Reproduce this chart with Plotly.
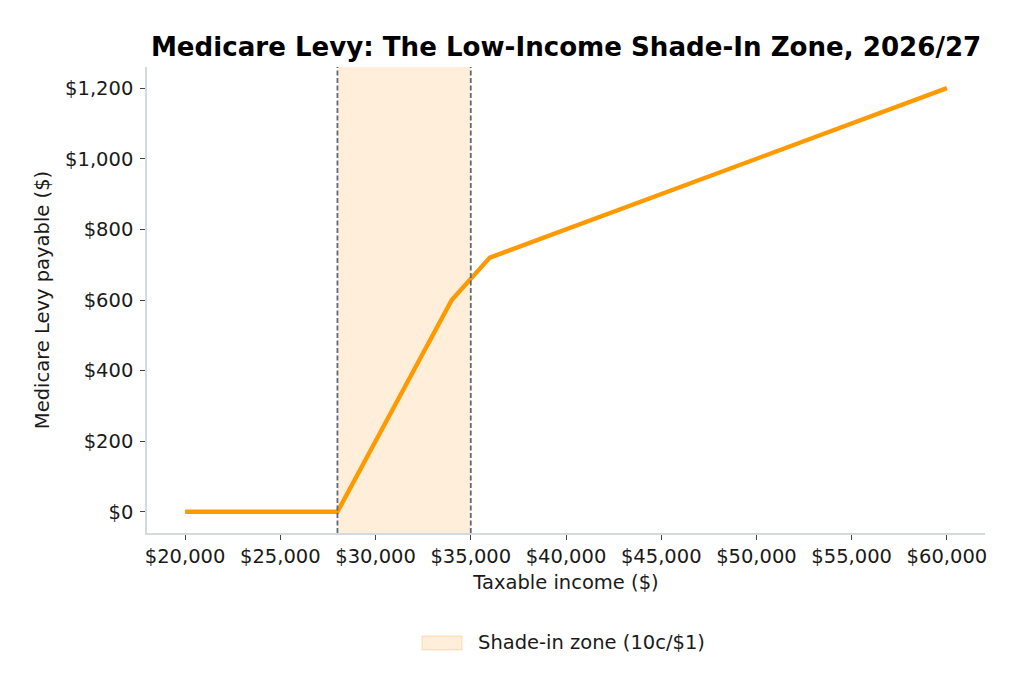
import plotly.graph_objects as go

# Data
income = [20000, 22000, 24000, 26000, 28000, 30000, 32000, 34000, 36000, 38000, 40000,
          42000, 44000, 46000, 48000, 50000, 52000, 54000, 56000, 58000, 60000]
levy = [0, 0, 0, 0, 0, 200, 400, 600, 720, 760, 800,
        840, 880, 920, 960, 1000, 1040, 1080, 1120, 1160, 1200]
lower_threshold = 28000
upper_threshold = 35000
x_ticks = [20000, 25000, 30000, 35000, 40000, 45000, 50000, 55000, 60000]
y_ticks = [0, 200, 400, 600, 800, 1000, 1200]
legend_label = "Shade-in zone (10c/$1)"

FONT = "DejaVu Sans"
LINE = "#FF9900"
SHADE = "rgba(255,140,0,0.15)"
SHADE_EDGE = "rgba(255,140,0,0.25)"
DASH = "#5A6B7C"
FS = 19.5

fig = go.Figure()

fig.add_trace(go.Scatter(
    x=income, y=levy, mode="lines",
    line=dict(color=LINE, width=4.4),
    showlegend=False, hoverinfo="skip",
))

fig.add_shape(type="rect", xref="x", yref="paper",
              x0=lower_threshold, x1=upper_threshold, y0=0, y1=1,
              fillcolor=SHADE, line=dict(width=0), layer="below")
for xv in (lower_threshold, upper_threshold):
    fig.add_shape(type="line", xref="x", yref="paper",
                  x0=xv, x1=xv, y0=0, y1=1,
                  line=dict(color=DASH, width=1.8, dash="5px,2.5px"), layer="above")

# Legend (manual, below the plot)
fig.add_shape(type="rect", xref="paper", yref="paper",
              x0=0.3282, x1=0.3759, y0=-0.251, y1=-0.221,
              fillcolor=SHADE, line=dict(color=SHADE_EDGE, width=1))
fig.add_annotation(xref="paper", yref="paper", x=0.3925, y=-0.236,
                   text=legend_label, showarrow=False, xanchor="left", yanchor="middle",
                   font=dict(family=FONT, size=FS, color="#1a1a1a"))

fig.update_layout(
    width=1024, height=698,
    margin=dict(l=147, r=39, t=67, b=165),
    paper_bgcolor="white", plot_bgcolor="white",
    font=dict(family=FONT, size=FS, color="#1a1a1a"),
    title=dict(text="<b>Medicare Levy: The Low-Income Shade-In Zone, 2026/27</b>",
               x=0.5528, xanchor="center", y=1 - 47 / 698, yanchor="middle",
               font=dict(family=FONT, size=26.1, color="#000000")),
    xaxis=dict(range=[18000, 62000], tickvals=x_ticks, tickformat="$,.0f",
               showgrid=False, zeroline=False, showline=True, linecolor="#D3D9DF", linewidth=1.5,
               ticks="outside", ticklen=5, tickcolor="#444444", tickwidth=1,
               title=dict(text="Taxable income ($)", standoff=8, font=dict(size=FS))),
    yaxis=dict(range=[-60, 1260], tickvals=y_ticks, tickformat="$,.0f",
               showgrid=False, zeroline=False, showline=True, linecolor="#D3D9DF", linewidth=1.5,
               ticks="outside", ticklen=5, tickcolor="#444444", tickwidth=1,
               ticklabelstandoff=3,
               title=dict(text="Medicare Levy payable ($)", standoff=10, font=dict(size=FS))),
    showlegend=False,
)

fig.write_html("out.html")
